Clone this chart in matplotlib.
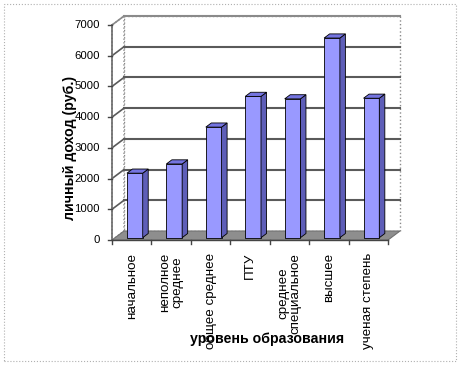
import matplotlib
matplotlib.use("Agg")
import matplotlib.pyplot as plt
from matplotlib.patches import Polygon, Rectangle

# data
categories = ["начальное", "неполное\nсреднее", "общее среднее", "ПТУ",
              "среднее\nспециальное", "высшее", "ученая степень"]
income = [2100, 2400, 3600, 4600, 4520, 6500, 4540]
yticks = [0, 1000, 2000, 3000, 4000, 5000, 6000, 7000]
ylabel = "личный доход (руб.)"
xlabel = "уровень образования"

plt.rcParams['font.family'] = ['Liberation Sans', 'DejaVu Sans']

fig = plt.figure(figsize=(4.62, 3.68), dpi=100)
ax = fig.add_axes([0, 0, 1, 1])
# pixel-matched data window: x in category units, y in roubles
ax.set_xlim(-2.840, 8.876)
ax.set_ylim(-4168, 7815)
ax.axis("off")

n = len(categories)
ymax = yticks[-1]
dx, dy = 0.304, 293          # depth of the pseudo-3d box
grid_c = "#5a5a5a"

# walls and floor
ax.add_patch(Polygon([(dx, dy), (n + dx, dy), (n + dx, ymax + dy), (dx, ymax + dy)],
                     closed=True, fc="white", ec="#8a8a8a", lw=1, ls=":", zorder=1))
ax.add_patch(Polygon([(0, 0), (dx, dy), (dx, ymax + dy), (0, ymax)],
                     closed=True, fc="white", ec="#8a8a8a", lw=1, ls=":", zorder=1))
ax.add_patch(Polygon([(0, 0), (n, 0), (n + dx, dy), (dx, dy)],
                     closed=True, fc="#8e8e8e", ec="#707070", lw=0.8, zorder=2))

for v in yticks[1:]:
    c = grid_c if v < ymax else "#8a8a8a"
    ax.plot([dx, n + dx], [v + dy, v + dy], color=c, lw=1.5, zorder=1.5)
    ax.plot([0, dx], [v, v + dy], color=c, lw=1.2, zorder=1.5)

# front axes
ax.plot([0, 0], [0, ymax], color="#6a6a6a", lw=1.2, zorder=3)
ax.plot([0, n], [0, 0], color="#444444", lw=1, zorder=3)
for v in yticks:
    ax.plot([-0.1, 0], [v, v], color="#444444", lw=1, zorder=3)
    ax.text(-0.31, v, str(v), ha="right", va="center", fontsize=8.2, color="black")
for i in range(n + 1):
    ax.plot([i, i], [0, -130], color="#444444", lw=1, zorder=3)

# bars
d0, d1 = 0.26, 0.72
w = 0.4
xs = [i + 0.5 + d0 * dx for i in range(n)]
ax.bar(xs, income, width=w, bottom=d0 * dy, color="#9999ff",
       edgecolor="black", linewidth=0.6, zorder=4)
ddx, ddy = (d1 - d0) * dx, (d1 - d0) * dy
for x, v in zip(xs, income):
    xl, xr = x - w / 2, x + w / 2
    b, t = d0 * dy, v + d0 * dy
    ax.add_patch(Polygon([(xr, b), (xr + ddx, b + ddy), (xr + ddx, t + ddy), (xr, t)],
                         closed=True, fc="#5e5eb8", ec="black", lw=0.6, zorder=4))
    ax.add_patch(Polygon([(xl, t), (xr, t), (xr + ddx, t + ddy), (xl + ddx, t + ddy)],
                         closed=True, fc="#7474e0", ec="black", lw=0.6, zorder=4))

# category labels
for i, lab in enumerate(categories):
    ax.text(i + 0.5, -420, lab, rotation=90, ha="center", va="top",
            multialignment="center", fontsize=9.6, linespacing=1.0)

ax.text(-1.065, 2996, ylabel, rotation=90, ha="center", va="center",
        fontsize=10.2, fontweight="bold")
ax.text(3.93, -3224, xlabel, ha="center", va="center",
        fontsize=10.2, fontweight="bold")

# dotted outer frame
fig.patches.append(Rectangle((4 / 462, 7 / 368), 452 / 462, 357 / 368,
                             transform=fig.transFigure, fill=False,
                             ec="#b0b0b0", lw=0.8, ls=":"))

fig.savefig("out.png", dpi=100)
plt.close(fig)
